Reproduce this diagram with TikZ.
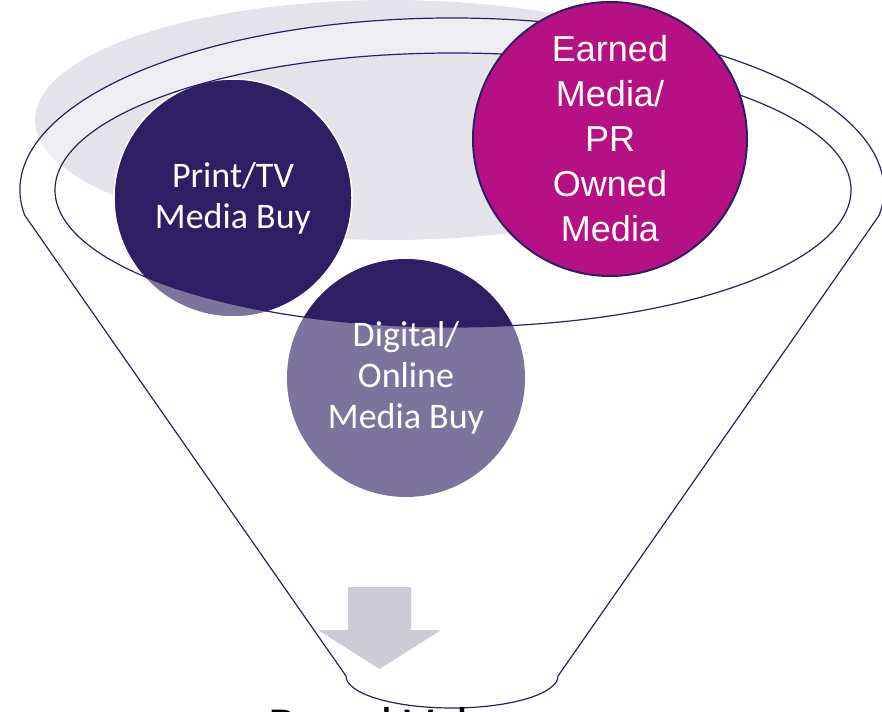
\documentclass[tikz,border=0pt]{standalone}
\usepackage{fontspec}
\setmainfont{Carlito}
\newfontfamily\arialfont{Liberation Sans}
\definecolor{navy}{RGB}{46,31,100}
\definecolor{berry}{RGB}{182,16,133}
\definecolor{mist}{RGB}{228,227,233}
\definecolor{arrowgrey}{RGB}{205,204,214}

\begin{document}
\begin{tikzpicture}[
    x=1pt,
    y=-1pt,
    bubble/.style={
      circle,
      draw=white,
      line width=1.5pt,
      fill=navy,
      inner sep=0pt,
      minimum size=238pt
    },
    caption/.style={
      text=white,
      align=center,
      inner sep=0pt,
      font=\fontsize{36}{41}\selectfont
    },
    funnel/.style={draw=navy, line width=1.2pt}
  ]
    \useasboundingbox (0,0) rectangle (882,711);

    \coordinate (rimL) at (24.6, 215.1);
    \coordinate (tipR) at (558, 676);
    \coordinate (mouth) at (453, 190);

    \fill[mist] (390, 120) ellipse [x radius=355, y radius=120];

    \node[bubble] (print) at (233, 198) {};
    \node[bubble, draw=none] (digital) at (406, 378) {};

    \fill[white, fill opacity=0.38, even odd rule]
      (rimL) arc [start angle=171.6, end angle=368.4, x radius=432, y radius=172]
      -- (tipR) arc [start angle=0, end angle=180, x radius=106, y radius=32]
      -- cycle
      (mouth) ellipse [x radius=398, y radius=137];

    \fill[arrowgrey] (348, 587) -- (411, 587) -- (411, 630) -- (441, 630)
      -- (379.5, 669) -- (318, 630) -- (348, 630) -- cycle;

    \draw[funnel]
      (rimL) arc [start angle=171.6, end angle=368.4, x radius=432, y radius=172]
      -- (tipR) arc [start angle=0, end angle=180, x radius=106, y radius=32]
      -- cycle;
    \draw[funnel] (mouth) ellipse [x radius=398, y radius=137];

    \node[caption] (print_txt) at (print) {Print/TV\\Media Buy};
    \node[caption] (digital_txt) at (digital) {Digital/\\Online\\Media Buy};

    \node[bubble, fill=berry, draw=navy, line width=2pt, minimum size=274pt] (earned) at (610, 139) {};
    \node[caption, font=\arialfont\fontsize{36}{45}\selectfont] (earned_txt) at (earned)
      {Earned\\Media/\\PR\\Owned\\Media};

    \node[anchor=base west, inner sep=0pt, font=\fontsize{52}{60}\selectfont] (value) at (268, 743) {Brand Value};

  \end{tikzpicture}
\end{document}
